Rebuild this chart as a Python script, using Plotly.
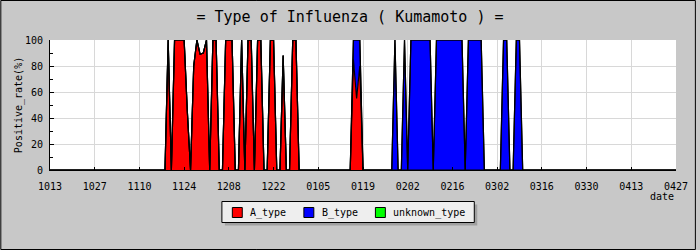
import pandas as pd
import plotly.graph_objects as go

# ---------------- data (daily, 2018-10-13 .. 2019-04-27) ----------------
start_date = "2018-10-13"
end_date = "2019-04-27"
dates = pd.date_range(start_date, end_date, freq="D")

series_names = ["A_type", "B_type", "unknown_type"]
series_colors = ["#FF0000", "#0000FF", "#00FF00"]

# one row = two weeks (14 days), starting on the tick dates
a_type = (
    [0] * 14
    + [0] * 14
    + [0, 0, 0, 0, 0, 0, 0, 0, 0, 100, 0, 100, 100, 100]
    + [100, 45, 0, 80, 100, 89, 90, 100, 0, 100, 100, 0, 0, 100]
    + [100, 100, 0, 0, 100, 0, 100, 100, 0, 100, 100, 0, 0, 100]
    + [100, 0, 0, 88, 0, 0, 100, 100, 0, 0, 0, 0, 0, 0]
    + [0, 0, 0, 0, 0, 0, 0, 0, 0, 0, 0, 85, 55, 80]
    + [0] * 14
    + [0] * 14
    + [0] * 14
    + [0] * 14
    + [0] * 14
    + [0] * 14
    + [0] * 14
    + [0]
)
b_type = (
    [0] * 14
    + [0] * 14
    + [0] * 14
    + [0] * 14
    + [0] * 14
    + [0] * 14
    + [0, 0, 0, 0, 0, 0, 0, 0, 0, 0, 0, 15, 45, 20]
    + [0, 0, 0, 0, 0, 0, 0, 0, 0, 0, 100, 0, 0, 100]
    + [0, 100, 100, 100, 100, 100, 100, 100, 0, 100, 100, 100, 100, 100]
    + [100, 100, 100, 100, 0, 100, 100, 100, 100, 100, 0, 0, 0, 0]
    + [0, 0, 100, 100, 0, 0, 100, 100, 0, 0, 0, 0, 0, 0]
    + [0] * 14
    + [0] * 14
    + [0] * 14
    + [0]
)
unknown_type = [0] * 197
values = [a_type, b_type, unknown_type]

title_text = "= Type of Influenza ( Kumamoto ) ="
y_title = "Positive_rate(%)"
x_title = "date"

# ---------------- layout geometry (pixels) ----------------
W, H = 700, 250
L, R, T, B = 50, 20, 40, 80
PW, PH = W - L - R, H - T - B


def px_x(x):
    return (x - L) / PW


def px_y(y):
    return (H - B - y) / PH


FONT = "DejaVu Sans Mono"

fig = go.Figure()
for name, col, vals in zip(series_names, series_colors, values):
    fig.add_trace(
        go.Scatter(
            x=dates,
            y=vals,
            name=name,
            mode="lines",
            stackgroup="one",
            fillcolor=col,
            line=dict(color="black", width=1.2),
            showlegend=False,
            hoverinfo="skip",
        )
    )

shapes = []
annotations = []

# outer frame of the picture
shapes.append(dict(type="rect", xref="paper", yref="paper",
                   x0=px_x(0.5), x1=px_x(W - 0.5), y0=px_y(H - 0.5), y1=px_y(0.5),
                   line=dict(color="#000000", width=1), fillcolor="rgba(0,0,0,0)"))

# legend box (drawn by hand to match the reference layout)
lg_x0, lg_x1, lg_y0, lg_y1 = 223, 477, 201.5, 222.5
shapes.append(dict(type="rect", xref="paper", yref="paper",
                   x0=px_x(lg_x0 + 3), x1=px_x(lg_x1 + 3), y0=px_y(lg_y1 + 3), y1=px_y(lg_y0 + 3),
                   line=dict(width=0), fillcolor="#A0A0A0"))
shapes.append(dict(type="rect", xref="paper", yref="paper",
                   x0=px_x(lg_x0), x1=px_x(lg_x1), y0=px_y(lg_y1), y1=px_y(lg_y0),
                   line=dict(color="black", width=1), fillcolor="#EEEEEE"))
sq_left = [233.5, 305.5, 377.5]
for name, col, sx in zip(series_names, series_colors, sq_left):
    shapes.append(dict(type="rect", xref="paper", yref="paper",
                       x0=px_x(sx), x1=px_x(sx + 10), y0=px_y(217.5), y1=px_y(207.5),
                       line=dict(color="black", width=1), fillcolor=col))
    annotations.append(dict(text=name, xref="paper", yref="paper",
                            x=px_x(sx + 16), y=px_y(212.5), xanchor="left", yanchor="middle",
                            showarrow=False, font=dict(family=FONT, size=10, color="black")))

annotations.append(dict(text=x_title, xref="paper", yref="paper",
                        x=1, y=px_y(196), xanchor="right", yanchor="middle",
                        showarrow=False, font=dict(family=FONT, size=10, color="black")))

fig.update_layout(
    width=W,
    height=H,
    margin=dict(l=L, r=R, t=T, b=B, pad=0),
    paper_bgcolor="#C8C8C8",
    plot_bgcolor="#FFFFFF",
    font=dict(family=FONT, size=10, color="black"),
    title=dict(text=title_text, x=0.5, xanchor="center", y=1 - 17 / H, yanchor="middle",
               font=dict(family=FONT, size=15, color="black")),
    showlegend=False,
    shapes=shapes,
    annotations=annotations,
)

fig.update_xaxes(
    type="date",
    range=[dates[0], dates[-1]],
    tick0=dates[0],
    dtick=14 * 86400000,
    tickformat="%m%d",
    showline=True,
    linecolor="black",
    linewidth=1,
    ticks="inside",
    ticklen=3,
    tickcolor="black",
    showgrid=True,
    gridcolor="#D8D8D8",
    gridwidth=1,
    zeroline=False,
    ticklabelstandoff=7,
    tickfont=dict(family=FONT, size=10),
)
fig.update_yaxes(
    range=[0, 100],
    dtick=20,
    showline=True,
    linecolor="black",
    linewidth=1,
    ticks="inside",
    ticklen=4,
    tickcolor="black",
    minor=dict(dtick=10, ticks="inside", ticklen=3, tickcolor="black", showgrid=False),
    showgrid=True,
    gridcolor="#D8D8D8",
    gridwidth=1,
    zeroline=False,
    ticklabelstandoff=4,
    tickfont=dict(family=FONT, size=10),
    title=dict(text=y_title, font=dict(family=FONT, size=10), standoff=0),
)

fig.write_html("out.html")
